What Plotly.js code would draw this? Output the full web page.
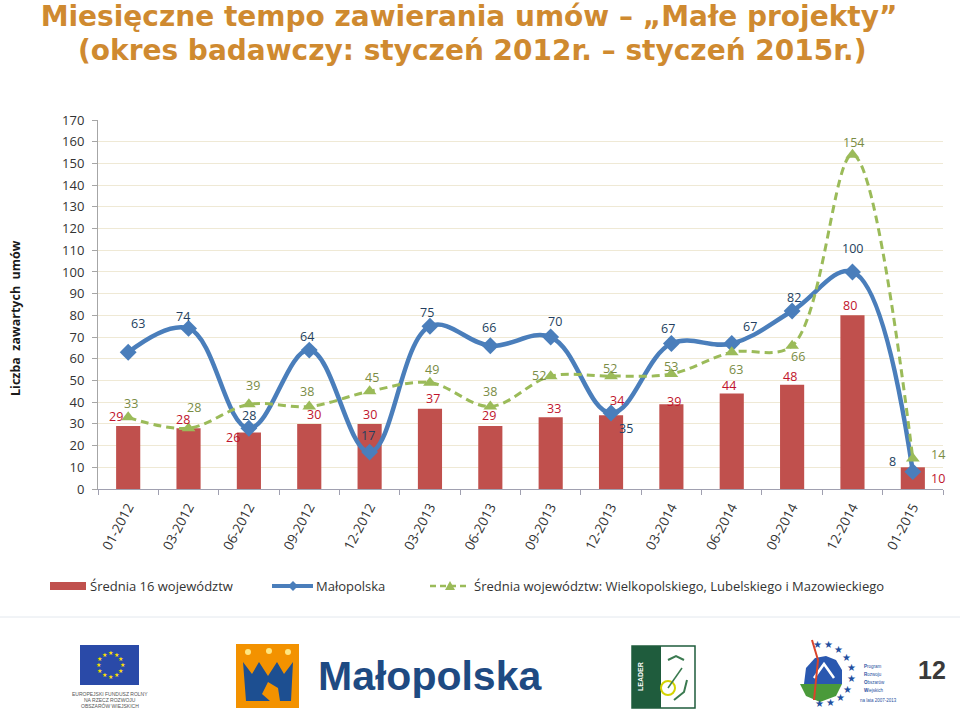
<!DOCTYPE html>
<html>
<head>
<meta charset="utf-8">
<script src="https://cdn.plot.ly/plotly-3.0.1.min.js"></script>
<style>html,body{margin:0;padding:0;background:#fff;}#chart{width:960px;height:712px;}</style>
</head>
<body>
<div id="chart"></div>
<script>
// ---- data ----
const categories = ['01-2012','03-2012','06-2012','09-2012','12-2012','03-2013','06-2013','09-2013','12-2013','03-2014','06-2014','09-2014','12-2014','01-2015'];
const avg16 = [29, 28, 26, 30, 30, 37, 29, 33, 34, 39, 44, 48, 80, 10];
const malopolska = [63, 74, 28, 64, 17, 75, 66, 70, 35, 67, 67, 82, 100, 8];
const avg3 = [33, 28, 39, 38, 45, 49, 38, 52, 52, 53, 63, 66, 154, 14];
const seriesNames = ['Średnia 16 województw', 'Małopolska', 'Średnia województw: Wielkopolskiego, Lubelskiego i Mazowieckiego'];
const titleLine1 = 'Miesięczne tempo zawierania umów – „Małe projekty”';
const titleLine2 = '(okres badawczy: styczeń 2012r. – styczeń 2015r.)';
const yTitle = 'Liczba  zawartych  umów';

// ---- label offsets (style) [xshift, yshift] ----
const redOff = [[-12,10],[-6,9],[-16,-5],[5,9],[0,9],[3,10],[-1,11],[3,9],[6,15],[3,3],[-3,8],[-2,8],[-2,10],[25,-11]];
const blueOff = [[10,29],[-6,12],[0,13],[-2,14],[-2,17],[-3,14],[-1,18],[4,16],[15,-15],[-3,15],[18,17],[2,14],[0,23],[-20,10]];
const greenOff = [[3,14],[5,21],[4,19],[-2,15],[2,14],[2,13],[0,15],[-12,1],[-1,8],[0,7],[4,-17],[6,-11],[1,12],[25,4]];

const C_RED = '#c0504d', C_BLUE = '#4a7ebb', C_GREEN = '#9bbb59';
const FONT = 'Open Sans, Noto Sans, sans-serif';
const TFONT = 'DejaVu Sans, Liberation Sans, Arial, sans-serif';

const traces = [
  {type:'bar', name: seriesNames[0], x: categories, y: avg16, marker:{color:C_RED}, hoverinfo:'skip', showlegend:false},
  {type:'scatter', mode:'lines+markers', name: seriesNames[1], x: categories, y: malopolska, showlegend:false,
   line:{color:C_BLUE, width:4.5, shape:'spline', smoothing:1.1}, marker:{symbol:'diamond', size:13, color:C_BLUE}},
  {type:'scatter', mode:'lines+markers', name: seriesNames[2], x: categories, y: avg3, showlegend:false,
   line:{color:C_GREEN, width:3, shape:'spline', smoothing:1, dash:'8px,5px'}, marker:{symbol:'triangle-up', size:12, color:C_GREEN}}
];

// ---- page geometry helpers (decoration only) ----
const L = 98, R = 943, T = 120, B = 489;
const P = px => (px - L) / (R - L);
const Q = py => (B - py) / (B - T);

const annotations = [];
function addLabels(vals, offs, color){
  vals.forEach((v,i)=>{
    annotations.push({x: categories[i], y: v, xref:'x', yref:'y', text: String(v), showarrow:false,
      xshift: offs[i][0], yshift: offs[i][1], font:{family:FONT, size:12.5, color:color}});
  });
}
addLabels(avg16, redOff, '#c0142c');
addLabels(malopolska, blueOff, '#243f60');
addLabels(avg3, greenOff, '#7a8c45');

annotations.push({xref:'paper', yref:'paper', x:P(472), y:Q(50.5), text:'<b>'+titleLine2+'</b>', showarrow:false,
  font:{family:TFONT, size:28, color:'#cf8a30'}, xanchor:'center', yanchor:'middle'});
annotations.push({xref:'paper', yref:'paper', x:P(15), y:Q(318), text:'<b>'+yTitle+'</b>', textangle:-90, showarrow:false,
  font:{family:FONT, size:12.5, color:'#1a1a1a'}, xanchor:'center', yanchor:'middle'});

// ---- decoration helpers ----
const shapes = [];
function rect(x0,y0,x1,y1,fill,line){ shapes.push({type:'rect', xref:'paper', yref:'paper', x0:P(x0), x1:P(x1), y0:Q(y1), y1:Q(y0), fillcolor:fill, line:line||{width:0}, layer:'above'}); }
function circ(cx,cy,r,fill,line){ shapes.push({type:'circle', xref:'paper', yref:'paper', x0:P(cx-r), x1:P(cx+r), y0:Q(cy+r), y1:Q(cy-r), fillcolor:fill, line:line||{width:0}, layer:'above'}); }
function path(pts,fill,line){ shapes.push({type:'path', xref:'paper', yref:'paper', path: pts.map((p,i)=>(i?'L':'M')+P(p[0])+','+Q(p[1])).join(' ')+(fill?' Z':''), fillcolor:fill||'rgba(0,0,0,0)', line:line||{width:0}, layer:'above'}); }
function seg(x0,y0,x1,y1,line){ shapes.push({type:'line', xref:'paper', yref:'paper', x0:P(x0), x1:P(x1), y0:Q(y0), y1:Q(y1), line:line, layer:'above'}); }
function txt(x,y,t,size,color,opts){ annotations.push(Object.assign({xref:'paper', yref:'paper', x:P(x), y:Q(y), text:t, showarrow:false, font:{family:'Liberation Sans, Arial, sans-serif', size:size, color:color}, xanchor:'center', yanchor:'middle'}, opts||{})); }

// ---- legend (drawn) ----
const LY = 586;
rect(50,582,86,590,C_RED);
txt(88,LY,seriesNames[0],13,'#333',{xanchor:'left', font:{family:FONT,size:13,color:'#333'}});
seg(272,LY,313,LY,{color:C_BLUE,width:4});
path([[293,LY-5],[298,LY],[293,LY+5],[288,LY]],C_BLUE);
txt(314,LY,seriesNames[1],13,'#333',{xanchor:'left', font:{family:FONT,size:13,color:'#333'}});
seg(430,LY,469,LY,{color:C_GREEN,width:2.5,dash:'6px,4px'});
path([[450,LY-5],[455,LY+4],[445,LY+4]],C_GREEN);
txt(472,LY,seriesNames[2],13,'#333',{xanchor:'left', font:{family:FONT,size:13,color:'#333'}});

// ---- footer ----
seg(0,617,960,617,{color:'#e3e8ee', width:1});
// EU flag
rect(80,645,139,685,'#2a4aa8');
for(let k=0;k<12;k++){ const a=k*Math.PI/6; txt(110+12*Math.cos(a), 665+12*Math.sin(a), '★', 6, '#ffe000'); }
txt(110,694,'EUROPEJSKI FUNDUSZ ROLNY',5,'#555');
txt(110,700,'NA RZECZ ROZWOJU',5,'#555');
txt(110,706,'OBSZARÓW WIEJSKICH',5,'#555');
// Malopolska logo
rect(236,644,299,708,'#f39200');
circ(248,652,3,'#ffe680'); circ(269,651,3,'#ffe680'); circ(288,652,3,'#ffe680');
path([[243,662],[252,674],[259,662],[268,676],[277,662],[284,674],[293,662],[291,701],[280,701],[278,688],[268,682],[262,694],[270,701],[246,701]],'#1d4f91');
txt(430,676,'<b>Małopolska</b>',41,'#1e4a82');
// LEADER logo
rect(632,646,695,708,'#ffffff',{color:'#1f5c3d',width:1.5});
rect(632,646,661,708,'#1f5c3d');
txt(640,677,'<b>LEADER</b>',7,'#ffffff',{textangle:-90});
path([[668,660],[676,656],[684,660]],null,{color:'#3a7a50',width:2});
path([[687,680],[684,692],[674,700]],null,{color:'#3a7a50',width:2});
circ(668,688,7,'rgba(0,0,0,0)',{color:'#d4d400',width:2});
path([[668,688],[682,668]],null,{color:'#3a7a50',width:1.5});
// PROW logo
for(let k=0;k<10;k++){ const a=Math.PI*(0.45+k*0.12); txt(822-30*Math.cos(a), 674-30*Math.sin(a), '★', 10, '#1f4fa0'); }
path([[804,684],[806,668],[815,658],[826,656],[836,660],[842,670],[842,684]],'#2a58b0');
path([[814,678],[824,664],[834,678]],null,{color:'#ffffff',width:2.5});
path([[800,684],[842,684],[836,696],[820,702],[806,696]],'#4a9a3a');
path([[812,640],[818,660],[814,700]],null,{color:'#d9442a',width:2});
txt(862,666,'<b>P</b>rogram',4.5,'#1f4fa0',{xanchor:'left'});
txt(862,674,'<b>R</b>ozwoju',4.5,'#1f4fa0',{xanchor:'left'});
txt(862,682,'<b>O</b>bszarów',4.5,'#1f4fa0',{xanchor:'left'});
txt(862,690,'<b>W</b>iejskich',4.5,'#1f4fa0',{xanchor:'left'});
txt(858,700,'na lata 2007-2013',4.5,'#1f4fa0',{xanchor:'left'});
// page number
txt(932,670,'<b>12</b>',25,'#3a3a3a');

const layout = {
  width:960, height:712,
  margin:{l:L, r:960-R, t:T, b:712-B, pad:0},
  paper_bgcolor:'#ffffff', plot_bgcolor:'#ffffff',
  showlegend:false,
  title:{text:'<b>'+titleLine1+'</b>', font:{family:TFONT, size:28, color:'#cf8a30'},
         x:469/960, xanchor:'center', xref:'container', y:1-16.5/712, yanchor:'middle', yref:'container'},
  bargap:0.6,
  xaxis:{type:'category', range:[-0.5,13.5], showgrid:false, showline:true, linecolor:'#a0a0b0', linewidth:1,
    ticks:'outside', tickson:'boundaries', ticklen:5, tickcolor:'#a0a0b0', tickangle:-62, ticklabelstandoff:4,
    tickfont:{family:FONT, size:13.5, color:'#333'}, automargin:false, fixedrange:true},
  yaxis:{range:[0,170], dtick:10, showgrid:true, gridcolor:'#efe9d5', gridwidth:1, zeroline:false,
    showline:true, linecolor:'#a6a6a6', linewidth:1, ticks:'outside', ticklen:5, tickcolor:'#a6a6a6', ticklabelstandoff:5,
    tickfont:{family:FONT, size:13, color:'#333'}, automargin:false, fixedrange:true},
  annotations: annotations,
  shapes: shapes,
  hovermode:false
};

Plotly.newPlot('chart', traces, layout, {displayModeBar:false, staticPlot:true});
</script>
</body>
</html>
